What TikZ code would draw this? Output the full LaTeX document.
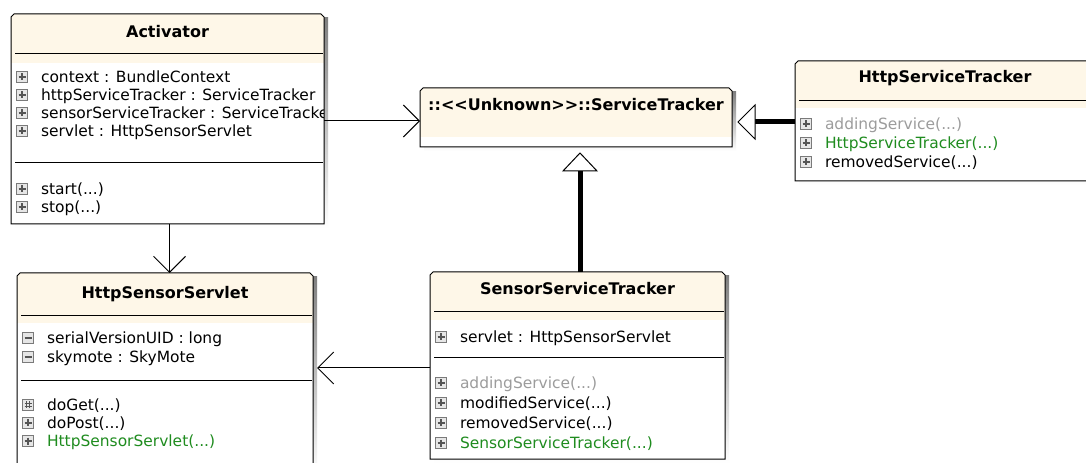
\documentclass[tikz,border=0pt]{standalone}
\usepackage{fontspec}
\setmainfont{DejaVu Sans}
\usetikzlibrary{arrows.meta,calc}

\newdimen\px \px=0.75pt

\definecolor{cream}{HTML}{FEF7E8}
\definecolor{shade}{HTML}{C8C8C8}
\definecolor{inherited}{HTML}{9C9C9C}
\definecolor{ctor}{HTML}{1F8C1F}
\definecolor{iconline}{HTML}{7A7A7A}
\definecolor{iconfill}{HTML}{E6E6E6}
\definecolor{iconmark}{HTML}{555555}

\tikzset{
  frame/.style={draw=none, inner sep=0, outer sep=0, anchor=north west},
  edge/.style={draw=black, line width=1\px},
  member/.style={anchor=west, inner sep=0, outer sep=0, text height=8.4pt, text depth=0pt,
                 font=\fontsize{11.6}{14}\selectfont},
  title/.style={inner sep=0, outer sep=0, text height=8.75pt, text depth=0pt,
                font=\fontsize{12}{14}\selectfont\bfseries},
  icon/.style={draw=iconline, fill=iconfill, line width=1\px, minimum size=11\px,
               inner sep=0, outer sep=0},
  pub/.style={icon, path picture={
      \draw[iconmark, line width=2\px]
        (path picture bounding box.center) +(-3.5,0) -- +(3.5,0)
        (path picture bounding box.center) +(0,-3.5) -- +(0,3.5);}},
  priv/.style={icon, path picture={
      \draw[iconmark, line width=2\px]
        (path picture bounding box.center) +(-3.5,0) -- +(3.5,0);}},
  prot/.style={icon, path picture={
      \draw[iconmark, line width=1\px]
        (path picture bounding box.center) +(-1.5,-3.5) -- +(-1.5,3.5)
        (path picture bounding box.center) +(1.5,-3.5) -- +(1.5,3.5)
        (path picture bounding box.center) +(-3.5,-1.5) -- +(3.5,-1.5)
        (path picture bounding box.center) +(-3.5,1.5) -- +(3.5,1.5);}},
  assoc/.style={draw=black, line width=0.75pt,
                -{Straight Barb[length=12pt, width=24pt]}},
  genline/.style={draw=black, line width=5\px},
  gentri/.style={draw=black, fill=white, line width=1\px, line join=miter},
}

% class frame: name, left, top, width, height, depth of the cream header fill
\newcommand\umlbox[6]{%
  \node[frame, minimum width=#4\px, minimum height=#5\px] (#1) at (#2,#3) {};
  \fill[shade] ($(#1.north west)+(4,4)$) rectangle ($(#1.south east)+(4,4)$);
  \fill[white] (#1.north west) rectangle (#1.south east);
  \fill[cream] ($(#1.north west)+(0,#6)$) -- ($(#1.north west)+(0,3)$)
    -- ($(#1.north west)+(3,0)$) -- ($(#1.north east)+(-3,0)$)
    -- ($(#1.north east)+(0,3)$) -- ($(#1.north east)+(0,#6)$) -- cycle;
  \draw[edge] (#1.south west) -- ($(#1.north west)+(0,3)$)
    -- ($(#1.north west)+(3,0)$) -- ($(#1.north east)+(-3,0)$)
    -- ($(#1.north east)+(0,3)$) -- (#1.south east) -- cycle;
}
% compartment divider: box name, y
\newcommand\umldivider[2]{%
  \draw[edge] ($(#1.west |- 0,#2)+(4,0)$) -- ($(#1.east |- 0,#2)+(-1,0)$);
}
% member row: node name, box left, centre y, icon style, text colour, text
\newcommand\umlmember[6]{%
  \node[#4] (#1-i) at (#2+11,#3) {};
  \node[member, text=#5] (#1) at (#2+30,#3) {#6};
}

\begin{document}
\begin{tikzpicture}[x=1\px, y=-1\px]
\useasboundingbox (0,0) rectangle (1086,463);
\fill[white] (0,0) rectangle (1086,463);

% ---------- frames ----------
\umlbox{act}{11}{14}{313}{210}{49}
\umlbox{st}{420}{88}{312}{59}{49}
\umlbox{hst}{795}{61}{300}{120}{47}
\umlbox{sst}{430}{272}{295}{187}{48}
\umlbox{hss}{17}{273}{296}{200}{50}

% ---------- Activator ----------
\node[title] (act-t) at (act.north |- 0,32) {Activator};
\umldivider{act}{54}
\umldivider{act}{163}
\begin{scope}
  \clip (act.north west) rectangle ($(act.south east)+(-1,0)$);
  \umlmember{act-m1}{11}{77}{pub}{black}{context : BundleContext}
  \umlmember{act-m2}{11}{95}{pub}{black}{httpServiceTracker : ServiceTracker}
  \umlmember{act-m3}{11}{113}{pub}{black}{sensorServiceTracker : ServiceTracker}
  \umlmember{act-m4}{11}{131}{pub}{black}{servlet : HttpSensorServlet}
  \umlmember{act-o1}{11}{189}{pub}{black}{start(...)}
  \umlmember{act-o2}{11}{207}{pub}{black}{stop(...)}
\end{scope}

% ---------- ServiceTracker ----------
\node[title] (st-t) at (st.north |- 0,105) {::<{}<Unknown>{}>::ServiceTracker};

% ---------- HttpServiceTracker ----------
\node[title] (hst-t) at (hst.north |- 0,77) {HttpServiceTracker};
\umldivider{hst}{101}
\umlmember{hst-o1}{795}{124}{pub}{inherited}{addingService(...)}
\umlmember{hst-o2}{795}{143}{pub}{ctor}{HttpServiceTracker(...)}
\umlmember{hst-o3}{795}{162}{pub}{black}{removedService(...)}

% ---------- SensorServiceTracker ----------
\node[title] (sst-t) at (sst.north |- 0,289) {SensorServiceTracker};
\umldivider{sst}{312}
\umldivider{sst}{358}
\umlmember{sst-m1}{430}{337}{pub}{black}{servlet : HttpSensorServlet}
\umlmember{sst-o1}{430}{383}{pub}{inherited}{addingService(...)}
\umlmember{sst-o2}{430}{403}{pub}{black}{modifiedService(...)}
\umlmember{sst-o3}{430}{423}{pub}{black}{removedService(...)}
\umlmember{sst-o4}{430}{443}{pub}{ctor}{SensorServiceTracker(...)}

% ---------- HttpSensorServlet ----------
\node[title] (hss-t) at (hss.north |- 0,293) {HttpSensorServlet};
\umldivider{hss}{316}
\umldivider{hss}{381}
\umlmember{hss-m1}{17}{338}{priv}{black}{serialVersionUID : long}
\umlmember{hss-m2}{17}{357}{priv}{black}{skymote : SkyMote}
\umlmember{hss-o1}{17}{405}{prot}{black}{doGet(...)}
\umlmember{hss-o2}{17}{423}{pub}{black}{doPost(...)}
\umlmember{hss-o3}{17}{441}{pub}{ctor}{HttpSensorServlet(...)}

% ---------- associations ----------
\draw[assoc] (act.east |- 0,121) -- (st.west |- 0,121);
\draw[assoc] ($(act.south)+(2,0)$) -- ($(act.south |- hss.north)+(2,0)$);
\draw[assoc] (sst.west |- 0,368) -- ($(hss.east |- 0,368)+(4,0)$);

% ---------- generalizations ----------
\coordinate (g1tip) at ($(st.east |- 0,122)+(6,0)$);
\draw[genline] (hst.west |- g1tip) -- ($(g1tip)+(17,0)$);
\draw[gentri] (g1tip) -- ++(17,-17) -- ++(0,34) -- cycle;

\coordinate (g2tip) at ($(st.south)+(4,6)$);
\draw[genline] (sst.north -| g2tip) -- ($(g2tip)+(0,18)$);
\draw[gentri] (g2tip) -- ++(-17,18) -- ++(34,0) -- cycle;
\end{tikzpicture}
\end{document}
